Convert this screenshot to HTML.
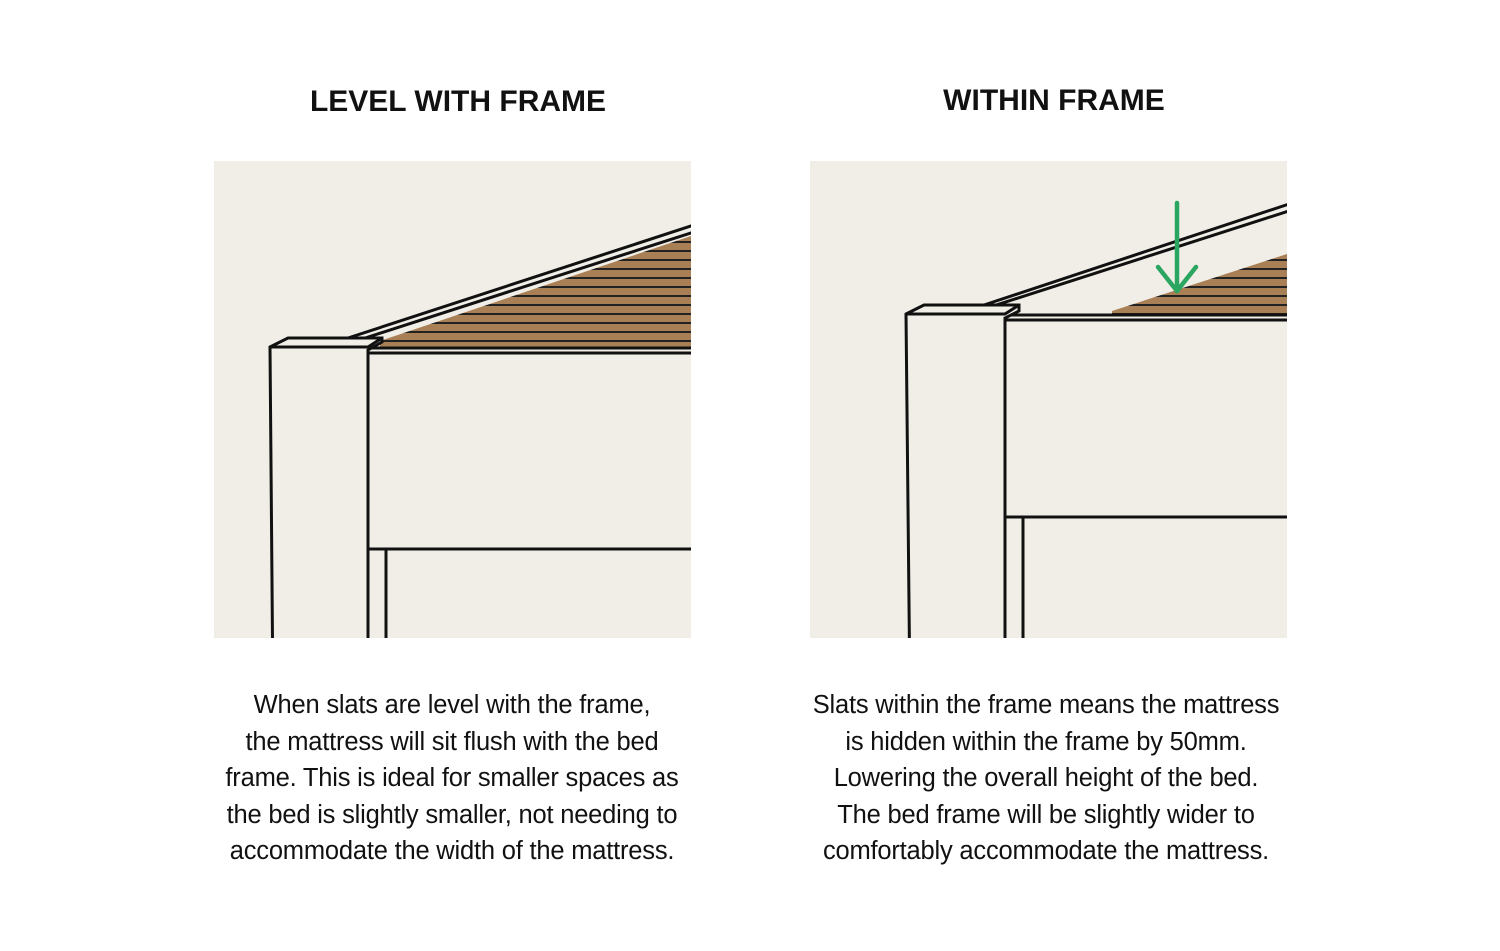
<!DOCTYPE html>
<html><head><style>
body{margin:0;width:1500px;height:951px;background:#fff;font-family:"Liberation Sans",sans-serif;position:relative;overflow:hidden}
.t{position:absolute;font-weight:bold;font-size:30px;color:#111;text-align:center;width:600px}
.p{position:absolute;font-size:25.5px;line-height:36.5px;color:#111;text-align:center;width:560px;letter-spacing:-0.2px}
svg{position:absolute;left:0;top:0}
</style></head><body>
<div class="t" style="left:158px;top:85px">LEVEL WITH FRAME</div>
<div class="t" style="left:754px;top:84px">WITHIN FRAME</div>
<svg width="1500" height="951" viewBox="0 0 1500 951">
<defs>
<pattern id="sl" width="10" height="9" patternUnits="userSpaceOnUse"><rect width="10" height="9" fill="#a97f55"/><rect y="7" width="10" height="2" fill="#222"/></pattern>
<clipPath id="c1"><rect x="214" y="161" width="477" height="477"/></clipPath>
<clipPath id="c2"><rect x="810" y="161" width="477" height="477"/></clipPath>
</defs>
<g clip-path="url(#c1)" stroke="#111" stroke-width="3" fill="none">
<rect x="214" y="161" width="477" height="477" fill="#f1eee7" stroke="none"/>
<polygon points="380,348 380,341 691,236 700,236 700,348" fill="url(#sl)" stroke="none"/>
<line x1="348" y1="338" x2="700" y2="223"/>
<line x1="356" y1="341" x2="700" y2="230"/>
<line x1="368" y1="348" x2="700" y2="348"/>
<line x1="368" y1="353" x2="700" y2="353"/>
<polygon points="270,347 288,338 382,338 382,342 368,350 368,700 273,700" fill="#f1eee7"/>
<polyline points="270,347 368,347 382,338"/>
<line x1="368" y1="549" x2="700" y2="549"/>
<line x1="386" y1="549" x2="386" y2="700"/>
</g>
<g clip-path="url(#c2)" stroke="#111" stroke-width="3" fill="none">
<rect x="810" y="161" width="477" height="477" fill="#f1eee7" stroke="none"/>
<polygon points="1112,314 1112,311 1287,254 1295,254 1295,314" fill="url(#sl)" stroke="none"/>
<line x1="984" y1="305" x2="1295" y2="202"/>
<line x1="990" y1="307" x2="1295" y2="209"/>
<line x1="1005" y1="315" x2="1295" y2="315"/>
<line x1="1005" y1="320" x2="1295" y2="320"/>
<polygon points="906,314 924,305 1019,305 1019,311 1005,318 1005,700 910,700" fill="#f1eee7"/>
<polyline points="906,314 1005,314 1019,305"/>
<line x1="1005" y1="517" x2="1295" y2="517"/>
<line x1="1023" y1="517" x2="1023" y2="700"/>
<g stroke="#2aa660" stroke-width="4.5" stroke-linecap="round" stroke-linejoin="round">
<line x1="1177" y1="203" x2="1177" y2="291"/>
<polyline points="1158,267 1177,291 1196,267"/>
</g>
</g>
</svg>
<div class="p" style="left:172px;top:687px">When slats are level with the frame,<br>the mattress will sit flush with the bed<br>frame. This is ideal for smaller spaces as<br>the bed is slightly smaller, not needing to<br>accommodate the width of the mattress.</div>
<div class="p" style="left:766px;top:687px">Slats within the frame means the mattress<br>is hidden within the frame by 50mm.<br>Lowering the overall height of the bed.<br>The bed frame will be slightly wider to<br>comfortably accommodate the mattress.</div>
</body></html>
